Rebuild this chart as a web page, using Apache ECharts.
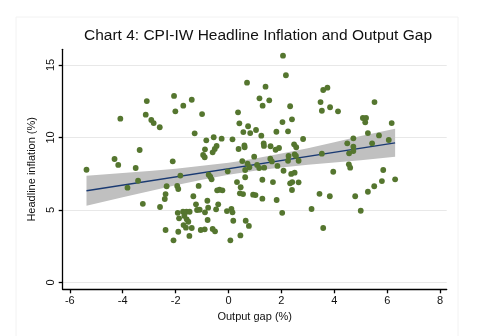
<!DOCTYPE html>
<html><head><meta charset="utf-8">
<script src="https://cdn.jsdelivr.net/npm/echarts@6/dist/echarts.min.js"></script>
<style>html,body{margin:0;padding:0;background:#fff}#c{width:488px;height:336px}</style>
</head><body><div id="c"></div>
<script>
const titleText = 'Chart 4: CPI-IW Headline Inflation and Output Gap';
const xName = 'Output gap (%)';
const yName = 'Headline inflation (%)';
const xTicks = [-6,-4,-2,0,2,4,6,8];
const yTicks = [0,5,10,15];

const outputGap = [-5.37,-4.09,-4.31,-4.17,-3.51,-3.36,-3.09,-3.13,-2.92,-2.83,-2.60,-2.06,-2.01,-2.11,-3.42,-3.82,-3.24,-2.34,-2.38,-2.41,-2.59,-1.82,-1.94,-1.90,-1.92,-1.87,-2.38,-1.90,-2.08,
-1.71,-1.39,-1.00,-1.28,-0.84,-0.56,-0.26,-0.89,-0.45,-0.52,-0.60,-0.96,-0.90,0.15,0.70,0.36,0.41,0.74,0.56,0.82,1.04,1.24,0.38,0.60,0.61,1.33,1.34,1.59,1.78,1.91,0.52,0.72,0.97,0.79,1.08,1.35,
2.06,2.17,1.40,1.17,1.54,1.29,2.33,2.40,2.04,1.81,2.25,2.82,2.48,2.56,2.50,2.27,2.55,1.58,1.64,1.85,2.25,2.65,1.16,2.08,2.37,2.50,0.63,0.63,1.28,
3.53,3.58,3.74,3.48,3.53,3.84,4.14,5.52,5.08,5.20,5.17,6.17,5.27,5.69,4.72,4.49,6.06,5.43,4.72,4.72,4.56,4.55,4.60,5.85,3.96,6.30,5.80,5.51,5.27,4.79,3.44,3.83,3.14,5.00,3.58,
-1.13,-0.75,-0.69,-0.64,-0.03,0.32,0.46,0.43,0.55,1.68,2.33,2.41,2.40,2.65,0.93,1.02,1.28,1.82,2.03,-1.33,-1.23,-1.19,-0.80,-0.77,-0.89,-0.47,-0.06,0.11,0.15,0.18,0.65,0.77,0.45,0.07,
-1.72,-1.59,-1.47,-1.67,-1.58,-1.52,-1.70,-1.61,-1.39,-1.48,-1.05,-0.90,-0.79,-0.60,-0.51,-0.39,-0.43,-0.34,-0.23,-1.09];
const inflation = [7.77,11.29,8.51,8.10,7.89,9.13,12.51,11.57,11.20,10.99,10.70,12.86,11.80,8.35,7.01,6.53,5.42,6.63,6.09,5.75,5.20,7.37,6.65,6.44,4.80,4.42,3.61,3.49,2.90,
12.19,12.60,11.61,10.28,9.80,10.01,9.91,9.18,9.41,9.20,8.97,8.79,8.63,9.87,13.78,11.73,10.97,10.77,10.37,10.30,10.51,10.12,9.20,9.45,9.32,9.58,9.41,9.39,9.15,9.27,8.37,8.19,8.67,7.94,8.10,7.91,
15.64,14.29,13.50,12.70,12.56,12.19,12.15,11.25,11.06,10.39,10.42,9.89,9.52,9.32,8.83,8.72,8.72,8.53,8.34,8.03,8.39,8.39,7.89,7.70,7.48,7.57,7.75,7.25,7.08,
8.88,13.27,13.43,12.44,11.84,12.08,11.80,12.44,11.34,11.34,11.04,10.99,10.30,10.14,9.94,9.59,9.82,9.59,9.36,9.06,8.90,8.14,7.91,7.75,7.63,7.11,6.99,6.63,6.25,5.94,6.11,5.94,5.06,4.94,3.75,
6.65,7.43,7.29,7.11,7.66,6.92,6.56,6.14,6.09,6.92,6.83,6.92,6.37,6.90,6.05,6.02,5.77,5.68,4.80,5.94,5.38,4.99,5.63,5.15,4.83,5.04,4.92,5.06,4.83,4.25,4.25,3.89,3.24,2.90,
4.87,4.87,4.87,4.58,4.35,4.18,3.95,3.77,3.75,3.20,3.61,3.66,4.30,3.68,3.52,5.38,6.35,6.39,6.35,5.01];

const fitX = [-5.37, 6.30];
const fitY = [6.32, 9.63];
const bandX = [-5.37,-4,-3,-2,-1,0,0.5,1,2,3,4,5,6.30];
const bandUpper = [7.35,7.54,7.69,7.84,8.04,8.26,8.39,8.54,8.89,9.26,9.67,10.09,10.60];
const bandLower = [5.29,5.88,6.29,6.70,7.08,7.42,7.57,7.70,7.93,8.12,8.27,8.43,8.67];

const scatterData = outputGap.map((x,i)=>[x, inflation[i]]);
const fitData = fitX.map((x,i)=>[x, fitY[i]]);

const FONT = 'Liberation Sans, Arial, sans-serif';
const chart = echarts.init(document.getElementById('c'), null, {renderer:'canvas'});
chart.setOption({
  animation:false,
  backgroundColor:'#ffffff',
  graphic:[{type:'rect', shape:{x:16,y:17,width:442,height:330}, style:{fill:'none', stroke:'#f2f2f2', lineWidth:1}, silent:true, z:-10}],
  title:{text:titleText, left:253, textAlign:'center', top:22.5,
    textStyle:{fontFamily:FONT, fontSize:15.5, fontWeight:'normal', color:'#111'}},
  grid:{left:62.7, right:41.3, top:49.3, bottom:46.7, containLabel:false},
  xAxis:{type:'value', min:-6.27, max:8.25,
    name:xName, nameLocation:'middle', nameGap:18,
    nameTextStyle:{fontFamily:FONT, fontSize:11, color:'#111'},
    axisLine:{show:true, onZero:false, lineStyle:{color:'#000', width:1.3}},
    axisTick:{show:true, length:4, customValues:xTicks, lineStyle:{color:'#000', width:1.3}},
    axisLabel:{customValues:xTicks, margin:6, fontFamily:FONT, fontSize:11, color:'#111'},
    splitLine:{show:false}},
  yAxis:{type:'value', min:-0.48, max:16.08,
    name:yName, nameLocation:'middle', nameGap:19,
    nameTextStyle:{fontFamily:FONT, fontSize:11, color:'#111'},
    axisLine:{show:true, onZero:false, lineStyle:{color:'#000', width:1.3}},
    axisTick:{show:true, length:4, customValues:yTicks, lineStyle:{color:'#000', width:1.3}},
    axisLabel:{customValues:yTicks, rotate:90, margin:6, fontFamily:FONT, fontSize:11, color:'#111'},
    splitLine:{show:true, lineStyle:{color:'#e8e8e8', width:1}}},
  series:[
    {type:'custom', z:1, silent:true, data:[0],
      renderItem:function(params, api){
        const pts = [];
        for (let i=0;i<bandX.length;i++) pts.push(api.coord([bandX[i], bandUpper[i]]));
        for (let i=bandX.length-1;i>=0;i--) pts.push(api.coord([bandX[i], bandLower[i]]));
        return {type:'polygon', shape:{points:pts}, style:{fill:'#c0c0c0', stroke:null}};
      }},
    {type:'line', z:2, data:fitData, showSymbol:false, symbol:'none',
      lineStyle:{color:'#1a3a72', width:1.3}},
    {type:'scatter', z:3, data:scatterData, symbol:'circle', symbolSize:5.8,
      itemStyle:{color:'#55762f', opacity:1}}
  ]
});
</script></body></html>
